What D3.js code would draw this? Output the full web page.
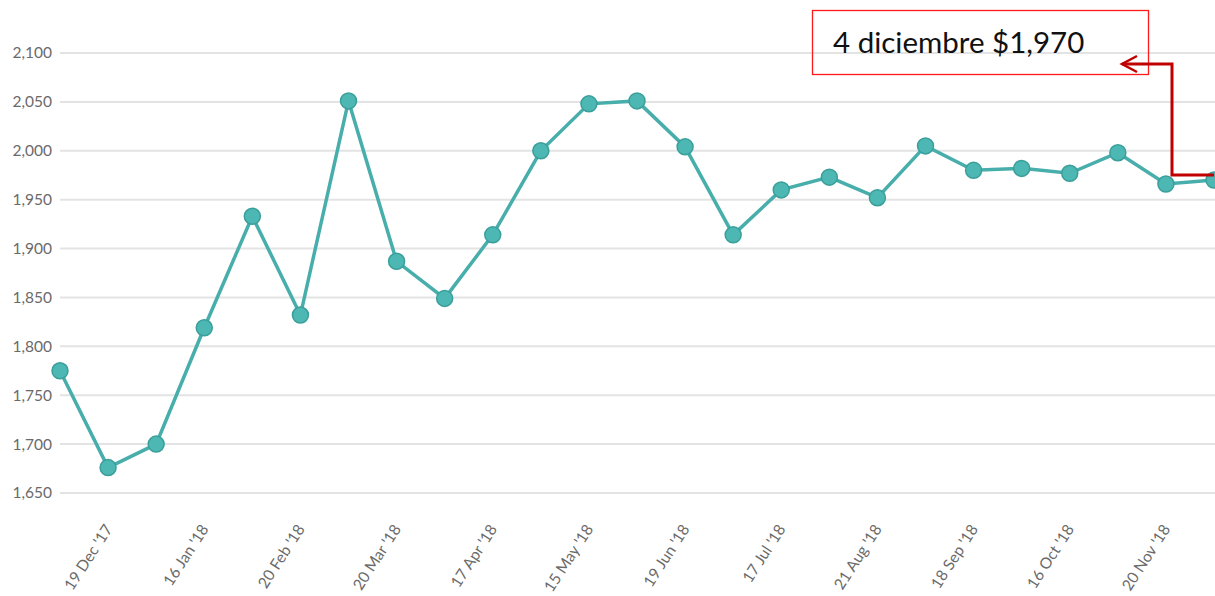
<!DOCTYPE html>
<html>
<head>
<meta charset="utf-8">
<script src="https://cdn.jsdelivr.net/npm/d3@7"></script>
<style>
  body { margin: 0; background: #fff; }
  .chart { width: 1215px; height: 596px; }
  text { font-family: Lato, sans-serif; }
</style>
</head>
<body>
<div class="chart"></div>
<script>
// price per point, weekly-ish samples
const values = [1775, 1676, 1700, 1819, 1933, 1832, 2051, 1887, 1849, 1914, 2000, 2048, 2051,
  2004, 1914, 1960, 1973, 1952, 2005, 1980, 1982, 1977, 1998, 1966, 1970];
// labels shown under every other point (odd positions)
const tickLabels = ["19 Dec '17", "16 Jan '18", "20 Feb '18", "20 Mar '18", "17 Apr '18", "15 May '18",
  "19 Jun '18", "17 Jul '18", "21 Aug '18", "18 Sep '18", "16 Oct '18", "20 Nov '18"];
const yTicks = [1650, 1700, 1750, 1800, 1850, 1900, 1950, 2000, 2050, 2100];
const note = '4 diciembre $1,970';

const width = 1215, height = 596;
const svg = d3.select('.chart').append('svg')
  .attr('width', width)
  .attr('height', height);

const x = d3.scalePoint()
  .domain(d3.range(values.length))
  .range([60, 1214]);

const y = d3.scaleLinear()
  .domain([1650, 2100])
  .range([493, 53]);

// grid lines
svg.append('g').selectAll('line')
  .data(yTicks)
  .join('line')
  .attr('x1', 60)
  .attr('x2', width)
  .attr('y1', d => y(d))
  .attr('y2', d => y(d))
  .style('stroke', '#e3e3e3')
  .style('stroke-width', 2);

// y labels
svg.append('g').selectAll('text')
  .data(yTicks)
  .join('text')
  .attr('x', 52)
  .attr('y', d => y(d))
  .attr('dy', '0.35em')
  .attr('text-anchor', 'end')
  .attr('font-size', 15.5)
  .attr('fill', '#6a6a6a')
  .text(d => d3.format(',')(d));

// x labels, rotated
const labelIdx = tickLabels.map((t, i) => i * 2 + 1);
svg.append('g').selectAll('text')
  .data(tickLabels)
  .join('text')
  .attr('transform', (d, i) => `translate(${x(labelIdx[i]) + 5},${529}) rotate(-57)`)
  .attr('text-anchor', 'end')
  .attr('font-size', 15.5)
  .attr('fill', '#6a6a6a')
  .text(d => d);

// line
const line = d3.line()
  .x((d, i) => x(i))
  .y(d => y(d));

svg.append('path')
  .datum(values)
  .attr('d', line)
  .style('fill', 'none')
  .style('stroke', '#48aeab')
  .style('stroke-width', 3.5);

svg.append('g').selectAll('circle')
  .data(values)
  .join('circle')
  .attr('cx', (d, i) => x(i))
  .attr('cy', d => y(d))
  .attr('r', 8)
  .style('fill', '#4db7b3')
  .style('stroke', '#3a9f9b')
  .style('stroke-width', 1.5);

// annotation
svg.append('rect')
  .attr('x', 812.5)
  .attr('y', 10.5)
  .attr('width', 336)
  .attr('height', 64)
  .style('fill', 'none')
  .style('stroke', '#ff1a1a')
  .style('stroke-width', 1.3);

svg.append('text')
  .attr('x', 833)
  .attr('y', 53)
  .attr('font-size', 29.5)
  .attr('fill', '#111')
  .text(note);

const last = values.length - 1;
const ay = 64;
svg.append('path')
  .attr('d', `M${x(last)},${y(values[last]) - 5} H1172 V${ay} H1122`)
  .style('fill', 'none')
  .style('stroke', '#c00000')
  .style('stroke-width', 3);

svg.append('path')
  .attr('d', `M1137,${ay - 8} L1122,${ay} L1137,${ay + 8}`)
  .style('fill', 'none')
  .style('stroke', '#c00000')
  .style('stroke-width', 2.5);
</script>
</body>
</html>
